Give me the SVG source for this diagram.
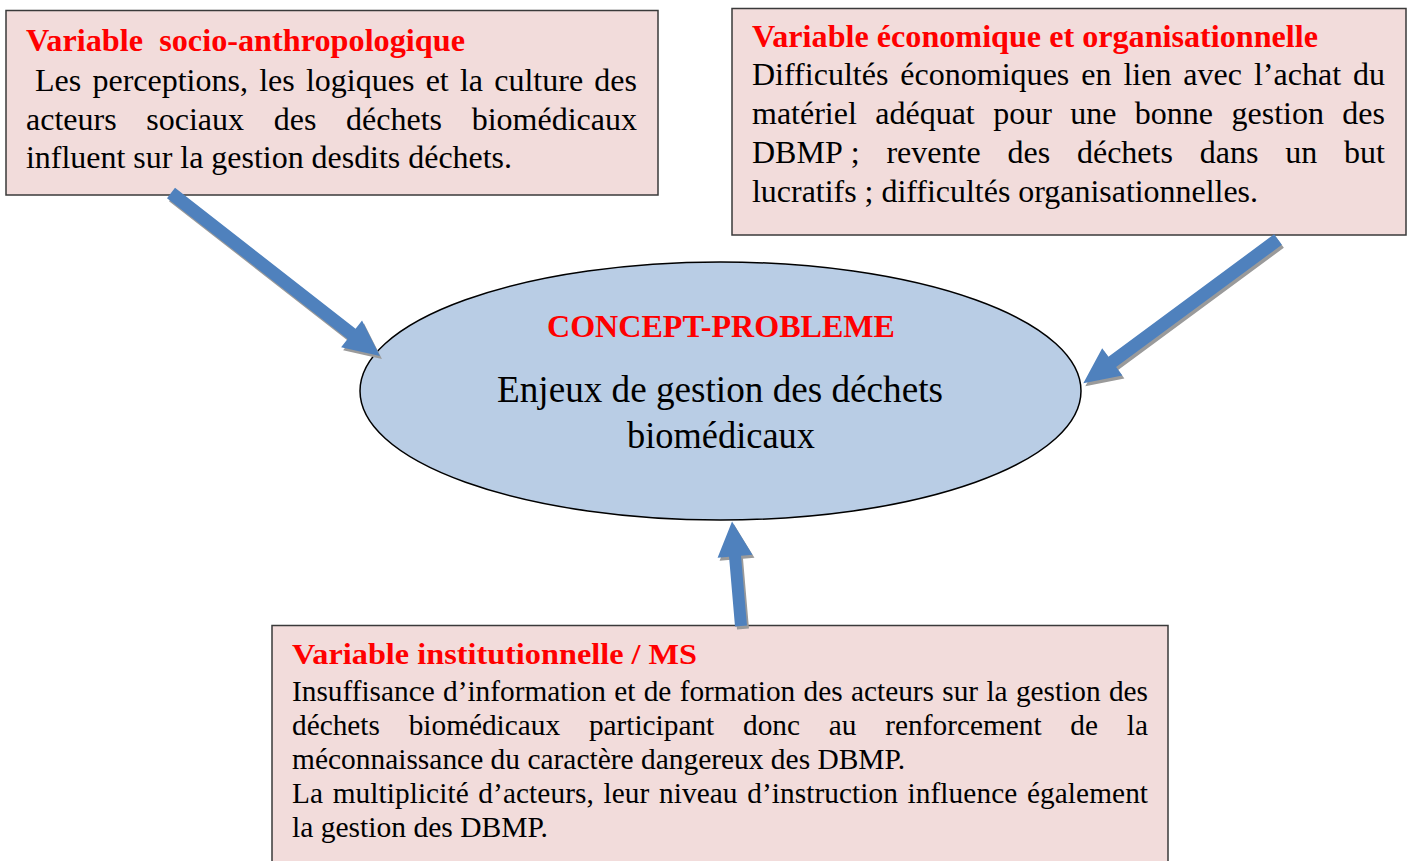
<svg xmlns="http://www.w3.org/2000/svg" width="1410" height="861" viewBox="0 0 1410 861">
<style>
.box{fill:#f2dcdb;stroke:#3a3a3a;stroke-width:1.5}
.ell{fill:#b9cde5;stroke:#000;stroke-width:1.5}
.t{font-family:"Liberation Serif","Times New Roman",serif;fill:#000}
.h{font-family:"Liberation Serif","Times New Roman",serif;font-weight:bold;fill:#ff0000}
.s1{font-size:32px}
.s3{font-size:29.3px}
.arrow{fill:#4f81bd}
.shadow{fill:#9a9a9a}
</style>
<rect width="1410" height="861" fill="#ffffff"/>
<g id="concept">
<ellipse class="ell" cx="720.5" cy="391" rx="360.5" ry="129"/>
<text class="h" x="721" y="337" font-size="31.8" text-anchor="middle" textLength="348" lengthAdjust="spacingAndGlyphs">CONCEPT-PROBLEME</text>
<text class="t" x="720" y="402" font-size="37" text-anchor="middle" textLength="446" lengthAdjust="spacingAndGlyphs">Enjeux de gestion des déchets</text>
<text class="t" x="721" y="448" font-size="37" text-anchor="middle" textLength="188" lengthAdjust="spacingAndGlyphs">biomédicaux</text>
</g>
<g id="socio">
<rect class="box" x="6" y="10.5" width="652" height="184.5"/>
<text class="h s1" x="26" y="51" textLength="439" lengthAdjust="spacingAndGlyphs" xml:space="preserve">Variable  socio-anthropologique</text>
<text class="t s1" x="35" y="90.5" word-spacing="3.2" textLength="602" lengthAdjust="spacing">Les perceptions, les logiques et la culture des</text>
<text class="t s1" x="26" y="130" word-spacing="21.7" textLength="611" lengthAdjust="spacing">acteurs sociaux des déchets biomédicaux</text>
<text class="t s1" x="26" y="168" textLength="486" lengthAdjust="spacingAndGlyphs">influent sur la gestion desdits déchets.</text>
</g>
<g id="economique">
<rect class="box" x="732" y="8.5" width="674" height="226.5"/>
<text class="h s1" x="752" y="47" textLength="566" lengthAdjust="spacingAndGlyphs">Variable économique et organisationnelle</text>
<text class="t s1" x="752" y="85" word-spacing="3.9" textLength="633" lengthAdjust="spacing">Difficultés économiques en lien avec l’achat du</text>
<text class="t s1" x="752" y="124" word-spacing="10.4" textLength="633" lengthAdjust="spacing">matériel adéquat pour une bonne gestion des</text>
<text class="t s1" x="752" y="163" word-spacing="18.85" textLength="633" lengthAdjust="spacing">DBMP<tspan word-spacing="0"> ;</tspan> revente des déchets dans un but</text>
<text class="t s1" x="752" y="202" textLength="506" lengthAdjust="spacingAndGlyphs">lucratifs ; difficultés organisationnelles.</text>
</g>
<g id="institutionnelle">
<rect class="box" x="272" y="625.5" width="896" height="240"/>
<text class="h s3" x="292" y="664" textLength="405" lengthAdjust="spacingAndGlyphs">Variable institutionnelle / MS</text>
<text class="t s3" x="292" y="701" word-spacing="1" textLength="856" lengthAdjust="spacing">Insuffisance d’information et de formation des acteurs sur la gestion des</text>
<text class="t s3" x="292" y="735" word-spacing="21.5" textLength="856" lengthAdjust="spacing">déchets biomédicaux participant donc au renforcement de la</text>
<text class="t s3" x="292" y="769" textLength="613" lengthAdjust="spacingAndGlyphs">méconnaissance du caractère dangereux des DBMP.</text>
<text class="t s3" x="292" y="803" word-spacing="2.2" textLength="856" lengthAdjust="spacing">La multiplicité d’acteurs, leur niveau d’instruction influence également</text>
<text class="t s3" x="292" y="837" textLength="256" lengthAdjust="spacingAndGlyphs">la gestion des DBMP.</text>
</g>
<g id="connectors">
<polygon class="shadow" transform="translate(173,196) rotate(37.95)" points="0,-6.5 229,-6.5 229,-17 265,0 229,17 229,6.5 0,6.5"/>
<polygon class="arrow" transform="translate(171,193) rotate(37.95)" points="0,-6.5 229,-6.5 229,-17 265,0 229,17 229,6.5 0,6.5"/>
<polygon class="shadow" transform="translate(1280,242.5) rotate(143.56)" points="0,-6.5 206,-6.5 206,-17 242,0 206,17 206,6.5 0,6.5"/>
<polygon class="arrow" transform="translate(1278,239.5) rotate(143.56)" points="0,-6.5 206,-6.5 206,-17 242,0 206,17 206,6.5 0,6.5"/>
<polygon class="shadow" transform="translate(743,629) rotate(-94.9)" points="0,-6 70,-6 70,-17.5 105,0 70,17.5 70,6 0,6"/>
<polygon class="arrow" transform="translate(741,626) rotate(-94.9)" points="0,-6 70,-6 70,-17.5 105,0 70,17.5 70,6 0,6"/>
</g>
</svg>
